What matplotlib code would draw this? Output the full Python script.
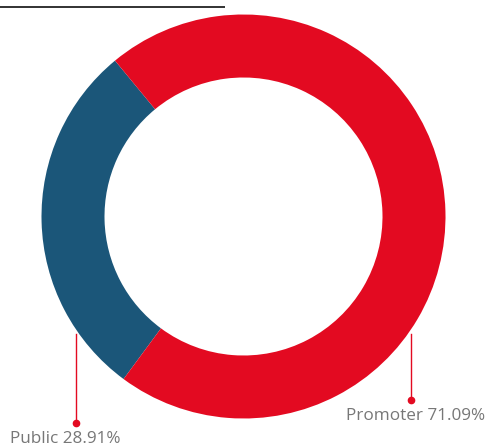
import matplotlib.pyplot as plt

labels = ['Public', 'Promoter']
shares = [28.91, 71.09]
colors = ['#1b5679', '#e30a21']

W, H = 486, 447
fig = plt.figure(figsize=(W / 100, H / 100), dpi=100)
ax = fig.add_axes([0, 0, 1, 1])

ax.pie(shares, colors=colors, startangle=129.5, counterclock=True,
       center=(243.5, 230.5), radius=202,
       wedgeprops=dict(width=63, edgecolor='none'))

ax.set_xlim(0, W)
ax.set_ylim(0, H)
ax.set_aspect('equal')
ax.axis('off')

# top rule
ax.plot([0, 225], [440.5, 440.5], color='#222222', lw=1.3, solid_capstyle='butt')

# leader lines
lead = '#e30a21'
ax.plot([76, 76], [113, 24], color=lead, lw=1)
ax.plot([76], [24], 'o', color=lead, ms=4.5)
ax.plot([411, 411], [113, 47], color=lead, lw=1)
ax.plot([411], [47], 'o', color=lead, ms=4.5)

txt = dict(color='#777777', fontsize=12.3, family='Open Sans', va='center', ha='left')
ax.text(10, 8, f'{labels[0]} {shares[0]:.2f}%', **txt)
ax.text(346, 31, f'{labels[1]} {shares[1]:.2f}%', **txt)

fig.savefig('out.png', dpi=100)
